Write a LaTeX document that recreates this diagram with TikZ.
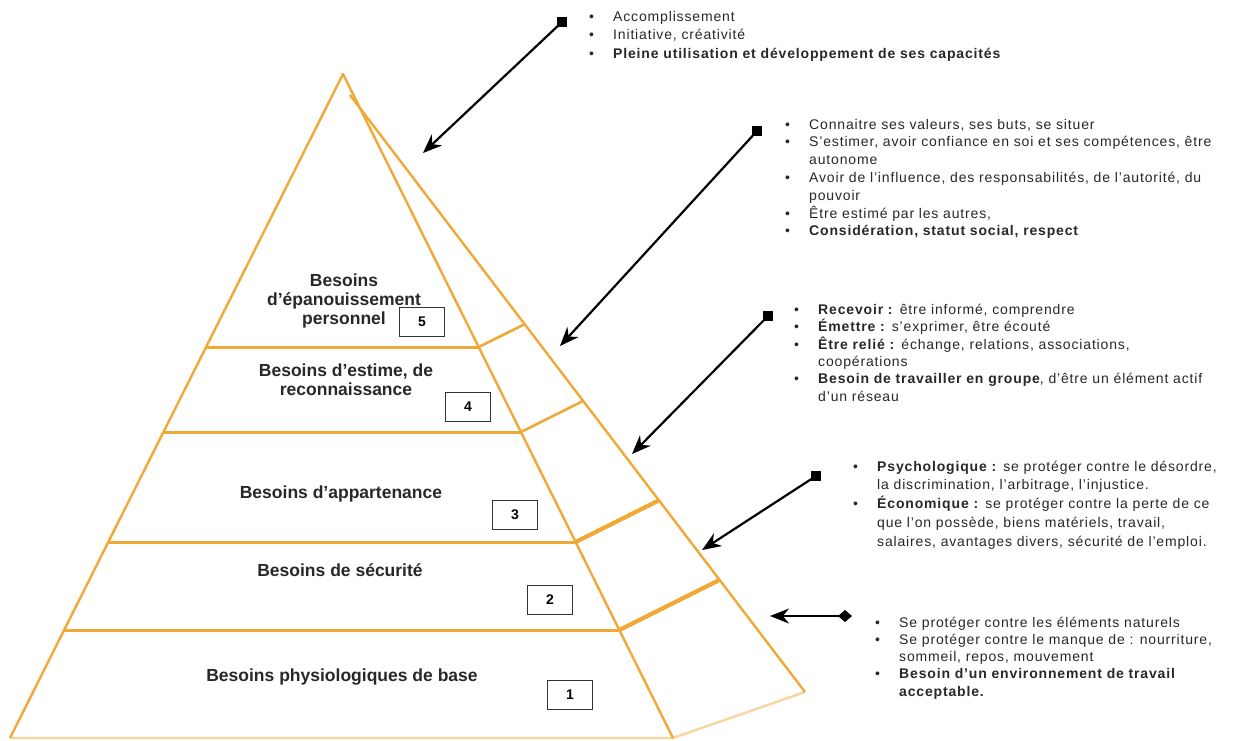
\documentclass[tikz,border=0pt]{standalone}
\usepackage{fontspec}
\setmainfont{Liberation Sans}
\usetikzlibrary{arrows.meta}
\definecolor{pyr}{RGB}{240,168,55}
\definecolor{pyrlight}{RGB}{246,214,158}
\definecolor{txt}{RGB}{40,40,40}
\newcommand\bl{\makebox[24pt][l]{\textbullet}}
\newcommand\rtxt{\addfontfeature{LetterSpace=6}}
\tikzset{
  edge/.style={draw=pyr, line width=2.4pt, line join=round},
  hline/.style={draw=pyr, line width=3pt},
  cross/.style={draw=pyr, line width=2.6pt},
  thickcross/.style={draw=pyr, line width=4.2pt},
  numbox/.style={draw=black!80, fill=white, line width=1.1pt, minimum width=45pt, minimum height=29pt, inner sep=0pt, font=\bfseries\fontsize{14}{16}\selectfont},
  lvl/.style={align=center, inner sep=0pt, text=txt, font=\bfseries\fontsize{17.5}{18.8}\selectfont},
  blk/.style={anchor=base west, inner sep=0pt, text=txt},
  sqmark/.style={fill=black, inner sep=0pt, minimum size=10pt},
  arr/.style={line width=2.2pt, -{Stealth[length=19pt,width=15pt]}}
}
\begin{document}
\begin{tikzpicture}[x=1pt,y=-1pt]
\useasboundingbox (0,0) rectangle (1236,740);
\fill[white] (0,0) rectangle (1236,740);
% pyramid
\coordinate (A) at (343,74);
\coordinate (BL) at (10,738);
\coordinate (BR) at (673,738);
\coordinate (O1) at (350,95);
\coordinate (O2) at (805,692);
\draw[pyrlight, line width=2.4pt] (BL) -- (BR) -- (O2);
\draw[edge] (BL) -- (A) -- (BR);
\draw[edge] (O1) -- (O2);
% horizontal level lines
\draw[hline] (206,347) -- (478.7,347);
\draw[hline] (163.5,432) -- (521,432);
\draw[hline] (108,542) -- (575.6,542);
\draw[hline] (64,630) -- (619.4,630);
% side cross lines
\draw[cross] (478.7,347) -- (524.6,324.2);
\draw[cross] (521,432) -- (583.2,400.9);
\draw[thickcross] (575.6,542) -- (658.8,500.4);
\draw[thickcross] (619.4,630) -- (719.6,579.9);
% level labels
\node[lvl] (l5) at (344,301) {Besoins\\d’épanouissement\\personnel};
\node[lvl] (l4) at (346,380) {Besoins d’estime, de\\reconnaissance};
\node[lvl] (l3) at (341,494) {Besoins d’appartenance};
\node[lvl] (l2) at (340,570) {Besoins de sécurité};
\node[lvl] (l1) at (342,677) {Besoins physiologiques de base};
% number boxes
\node[numbox] (n5) at (422,322) {5};
\node[numbox] (n4) at (468,407) {4};
\node[numbox] (n3) at (515,515) {3};
\node[numbox] (n2) at (550,600) {2};
\node[numbox] (n1) at (570,695) {1};
% arrows
\node[sqmark] (s1) at (562,22) {};  \coordinate (t1) at (423,153);
\node[sqmark] (s2) at (757,131) {}; \coordinate (t2) at (560,346);
\node[sqmark] (s3) at (768,316) {}; \coordinate (t3) at (632,454);
\node[sqmark] (s4) at (816,476) {}; \coordinate (t4) at (702,550);
\coordinate (s5) at (852,616); \coordinate (t5) at (770,616);
\draw[arr] (s1.center) -- (t1);
\draw[arr] (s2.center) -- (t2);
\draw[arr] (s3.center) -- (t3);
\draw[arr] (s4.center) -- (t4);
\draw[line width=2.2pt, {Stealth[length=19pt,width=15pt]}-{Diamond[length=14pt,width=12pt]}] (t5) -- (s5);
% text blocks
\node[blk] (b1) at (589,21) {\fontsize{14}{18.5}\selectfont\rtxt\begin{tabular}[t]{@{}l@{}l@{}}
\bl & Accomplissement\\
\bl & Initiative, créativité\\
\bl & \textbf{Pleine utilisation et développement de ses capacités}
\end{tabular}};
\node[blk] (b2) at (785,129) {\fontsize{14}{17.8}\selectfont\rtxt\begin{tabular}[t]{@{}l@{}l@{}}
\bl & Connaitre ses valeurs, ses buts, se situer\\
\bl & S'estimer, avoir confiance en soi et ses compétences, être\\
 & autonome\\
\bl & Avoir de l'influence, des responsabilités, de l'autorité, du\\
 & pouvoir\\
\bl & Être estimé par les autres,\\
\bl & \textbf{Considération, statut social, respect}
\end{tabular}};
\node[blk] (b3) at (794,314) {\fontsize{14}{17.3}\selectfont\rtxt\begin{tabular}[t]{@{}l@{}l@{}}
\bl & \textbf{Recevoir :} être informé, comprendre\\
\bl & \textbf{Émettre :} s'exprimer, être écouté\\
\bl & \textbf{Être relié :} échange, relations, associations,\\
 & coopérations\\
\bl & \textbf{Besoin de travailler en groupe}, d'être un élément actif\\
 & d'un réseau
\end{tabular}};
\node[blk] (b4) at (853,471) {\fontsize{14}{18.8}\selectfont\rtxt\begin{tabular}[t]{@{}l@{}l@{}}
\bl & \textbf{Psychologique :} se protéger contre le désordre,\\
 & la discrimination, l'arbitrage, l'injustice.\\
\bl & \textbf{Économique :} se protéger contre la perte de ce\\
 & que l'on possède, biens matériels, travail,\\
 & salaires, avantages divers, sécurité de l'emploi.
\end{tabular}};
\node[blk] (b5) at (875,627) {\fontsize{14}{17.3}\selectfont\rtxt\begin{tabular}[t]{@{}l@{}l@{}}
\bl & Se protéger contre les éléments naturels\\
\bl & Se protéger contre le manque de : nourriture,\\
 & sommeil, repos, mouvement\\
\bl & \textbf{Besoin d’un environnement de travail}\\
 & \textbf{acceptable.}
\end{tabular}};
\end{tikzpicture}
\end{document}
